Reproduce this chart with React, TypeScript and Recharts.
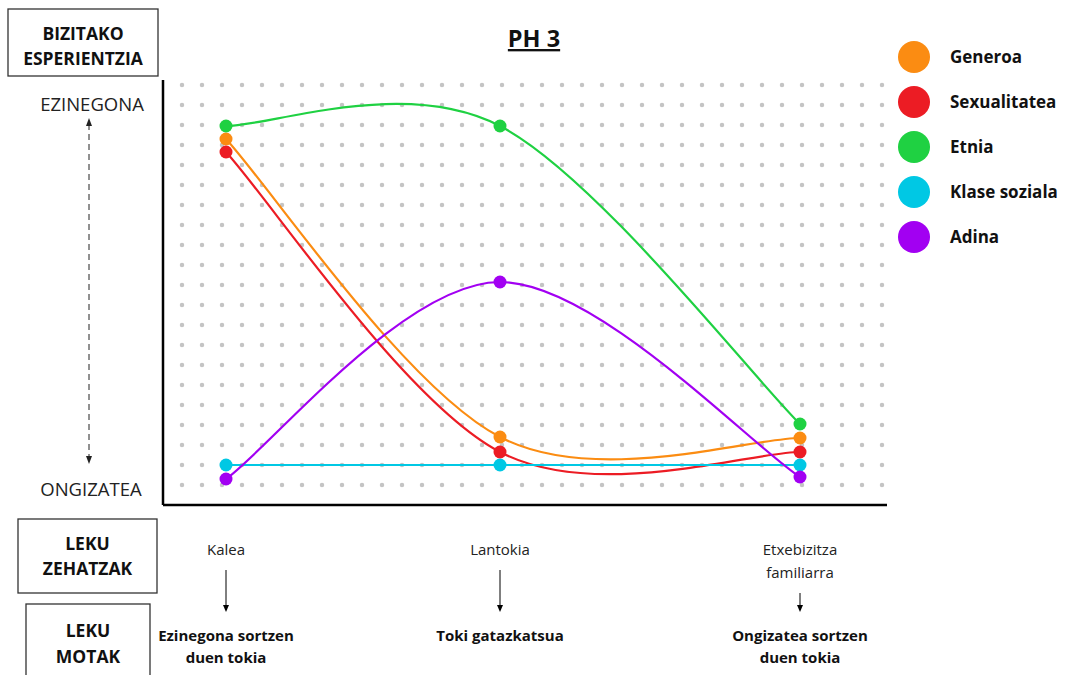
import React from "react";
import { CartesianGrid, Legend, Line, LineChart, XAxis, YAxis } from "recharts";

// Places along the bottom, in order
const places = [["Kalea"], ["Lantokia"], ["Etxebizitza", "familiarra"]];
const placeTypes = [
  ["Ezinegona sortzen", "duen tokia"],
  ["Toki gatazkatsua"],
  ["Ongizatea sortzen", "duen tokia"],
];
// where each place sits along the dotted grid (grid-column units)
const placeColumn = [2.2, 15.9, 30.9];

// experience level per place (grid-row units: 0 = ONGIZATEA side, 21 = EZINEGONA side)
const generoa = [18.3, 3.4, 3.35];
const sexualitatea = [17.65, 2.65, 2.65];
const etnia = [18.95, 18.95, 4.05];
const klaseSoziala = [2.0, 2.0, 2.0];
const adina = [1.3, 11.15, 1.4];

const gridRows = [1, 2, 3, 4, 5, 6, 7, 8, 9, 10, 11, 12, 13, 14, 15, 16, 17, 18, 19, 20, 21];

const SERIES = [
  { key: "generoa", name: "Generoa", color: "#fb8c12" },
  { key: "sexualitatea", name: "Sexualitatea", color: "#ec1c24" },
  { key: "etnia", name: "Etnia", color: "#1fd142" },
  { key: "klaseSoziala", name: "Klase soziala", color: "#00c8e4" },
  { key: "adina", name: "Adina", color: "#a200f2" },
];

const FONT = "'Open Sans', 'Noto Sans', sans-serif";

// Excel-style smoothed line (Catmull-Rom through every point)
function excelSmooth(context: any) {
  let pts: [number, number][] = [];
  return {
    areaStart() {},
    areaEnd() {},
    lineStart() {
      pts = [];
    },
    point(x: number, y: number) {
      pts.push([+x, +y]);
    },
    lineEnd() {
      const n = pts.length;
      if (!n) return;
      context.moveTo(pts[0][0], pts[0][1]);
      for (let i = 0; i < n - 1; i++) {
        const p0 = pts[Math.max(i - 1, 0)];
        const p1 = pts[i];
        const p2 = pts[i + 1];
        const p3 = pts[Math.min(i + 2, n - 1)];
        context.bezierCurveTo(
          p1[0] + (p2[0] - p0[0]) / 6,
          p1[1] + (p2[1] - p0[1]) / 6,
          p2[0] - (p3[0] - p1[0]) / 6,
          p2[1] - (p3[1] - p1[1]) / 6,
          p2[0],
          p2[1]
        );
      }
    },
  };
}

function DotRow(props: any) {
  const { x1, x2, y1, y2 } = props;
  // skip the frame edges, only the inner rows are dotted
  if (y1 <= 81 || y1 >= 504) return <g />;
  return (
    <line
      x1={x1}
      x2={x2}
      y1={y1}
      y2={y2}
      stroke="#c4c4c4"
      strokeWidth={4.5}
      strokeLinecap="round"
      strokeDasharray="0 20"
      strokeDashoffset={1}
    />
  );
}

function NoTick() {
  return <g />;
}

function DownArrow({ x, y1, y2 }: { x: number; y1: number; y2: number }) {
  return (
    <g>
      <line x1={x} x2={x} y1={y1} y2={y2 - 6} stroke="#000" strokeWidth={1} />
      <path d={`M${x - 3},${y2 - 7} L${x + 3},${y2 - 7} L${x},${y2} Z`} fill="#000" />
    </g>
  );
}

function PlaceTick(props: any) {
  const { x, y, payload } = props;
  const i = payload.index;
  const name = places[i] || [];
  const type = placeTypes[i] || [];
  const base = y + 50;
  const arrowTop = base + (name.length - 1) * 23 + 15;
  return (
    <g fontFamily={FONT}>
      {name.map((line, k) => (
        <text key={k} x={x} y={base + k * 23} textAnchor="middle" fontSize={15} fill="#222">
          {line}
        </text>
      ))}
      <DownArrow x={x} y1={arrowTop} y2={y + 107} />
      {type.map((line, k) => (
        <text
          key={k}
          x={x}
          y={y + 136 + k * 22}
          textAnchor="middle"
          fontSize={15}
          fontWeight={700}
          fill="#111"
        >
          {line}
        </text>
      ))}
    </g>
  );
}

function LegendList({ payload }: any) {
  const order = SERIES.map((s) => s.name);
  const items = [...(payload || [])].sort(
    (a: any, b: any) => order.indexOf(a.value) - order.indexOf(b.value)
  );
  return (
    <div style={{ fontFamily: FONT }}>
      {items.map((entry: any) => (
        <div key={entry.value} style={{ display: "flex", alignItems: "center", height: 45 }}>
          <span
            style={{
              display: "inline-block",
              width: 32,
              height: 32,
              borderRadius: "50%",
              background: entry.color,
              marginRight: 20,
            }}
          />
          <span style={{ fontSize: 17, fontWeight: 700, color: "#111" }}>{entry.value}</span>
        </div>
      ))}
    </div>
  );
}

function Box({ x, y, w, h, lines, cy }: { x: number; y: number; w: number; h: number; lines: string[]; cy: number[] }) {
  return (
    <g>
      <rect x={x} y={y} width={w} height={h} fill="none" stroke="#333" strokeWidth={1.3} />
      {lines.map((t, k) => (
        <text
          key={k}
          x={x + w / 2}
          y={cy[k]}
          textAnchor="middle"
          dominantBaseline="central"
          fontSize={17.5}
          fontWeight={700}
          fill="#111"
        >
          {t}
        </text>
      ))}
    </g>
  );
}

export default function App() {
  const data = placeColumn.map((col, i) => ({
    col,
    generoa: generoa[i],
    sexualitatea: sexualitatea[i],
    etnia: etnia[i],
    klaseSoziala: klaseSoziala[i],
    adina: adina[i],
  }));

  return (
    <div style={{ position: "absolute", left: 0, top: 0, width: 1067, height: 675, background: "#fff" }}>
      <LineChart
        width={1067}
        height={675}
        data={data}
        margin={{ top: 80, left: 162, right: 180, bottom: 140 }}
        style={{ position: "absolute", left: 0, top: 0 }}
      >
        <CartesianGrid vertical={false} horizontal={DotRow as any} />
        <XAxis
          type="number"
          dataKey="col"
          domain={[-0.95, 35.25]}
          ticks={placeColumn}
          interval={0}
          tickLine={false}
          tickSize={0}
          tickMargin={0}
          height={30}
          axisLine={{ stroke: "#000", strokeWidth: 2.5 }}
          tick={<PlaceTick />}
        />
        <YAxis
          type="number"
          domain={[0, 21.25]}
          ticks={gridRows}
          interval={0}
          width={1}
          tick={<NoTick />}
          tickLine={false}
          axisLine={{ stroke: "#000", strokeWidth: 2.5 }}
        />
        <Legend
          layout="vertical"
          align="center"
          verticalAlign="middle"
          content={<LegendList />}
          wrapperStyle={{ left: 898, top: 34, width: 169 }}
        />
        {SERIES.map((s) => (
          <Line
            key={s.key}
            dataKey={s.key}
            name={s.name}
            type={excelSmooth as any}
            stroke={s.color}
            strokeWidth={2.2}
            dot={{ r: 6.5, fill: s.color, stroke: "none", strokeWidth: 0 }}
            activeDot={false}
            isAnimationActive={false}
          />
        ))}
      </LineChart>

      <svg
        width={1067}
        height={675}
        style={{ position: "absolute", left: 0, top: 0, pointerEvents: "none" }}
        fontFamily={FONT}
      >
        <text
          x={534}
          y={47}
          textAnchor="middle"
          fontSize={23.5}
          fontWeight={700}
          fill="#111"
          style={{ textDecoration: "underline" }}
        >
          PH 3
        </text>

        <Box x={8} y={9} w={150} h={67} lines={["BIZITAKO", "ESPERIENTZIA"]} cy={[33, 58]} />
        <Box x={18} y={519} w={139} h={74} lines={["LEKU", "ZEHATZAK"]} cy={[543, 568]} />
        <Box x={26} y={604} w={124} h={80} lines={["LEKU", "MOTAK"]} cy={[630, 656]} />

        <text x={92} y={103} textAnchor="middle" dominantBaseline="central" fontSize={18.5} fill="#222">
          EZINEGONA
        </text>
        <text x={91} y={488} textAnchor="middle" dominantBaseline="central" fontSize={18.5} fill="#222">
          ONGIZATEA
        </text>
        <line x1={89} x2={89} y1={124} y2={458} stroke="#222" strokeWidth={1} strokeDasharray="6 4" />
        <path d="M86,126 L92,126 L89,118 Z" fill="#222" />
        <path d="M86,456 L92,456 L89,464 Z" fill="#222" />
      </svg>
    </div>
  );
}
